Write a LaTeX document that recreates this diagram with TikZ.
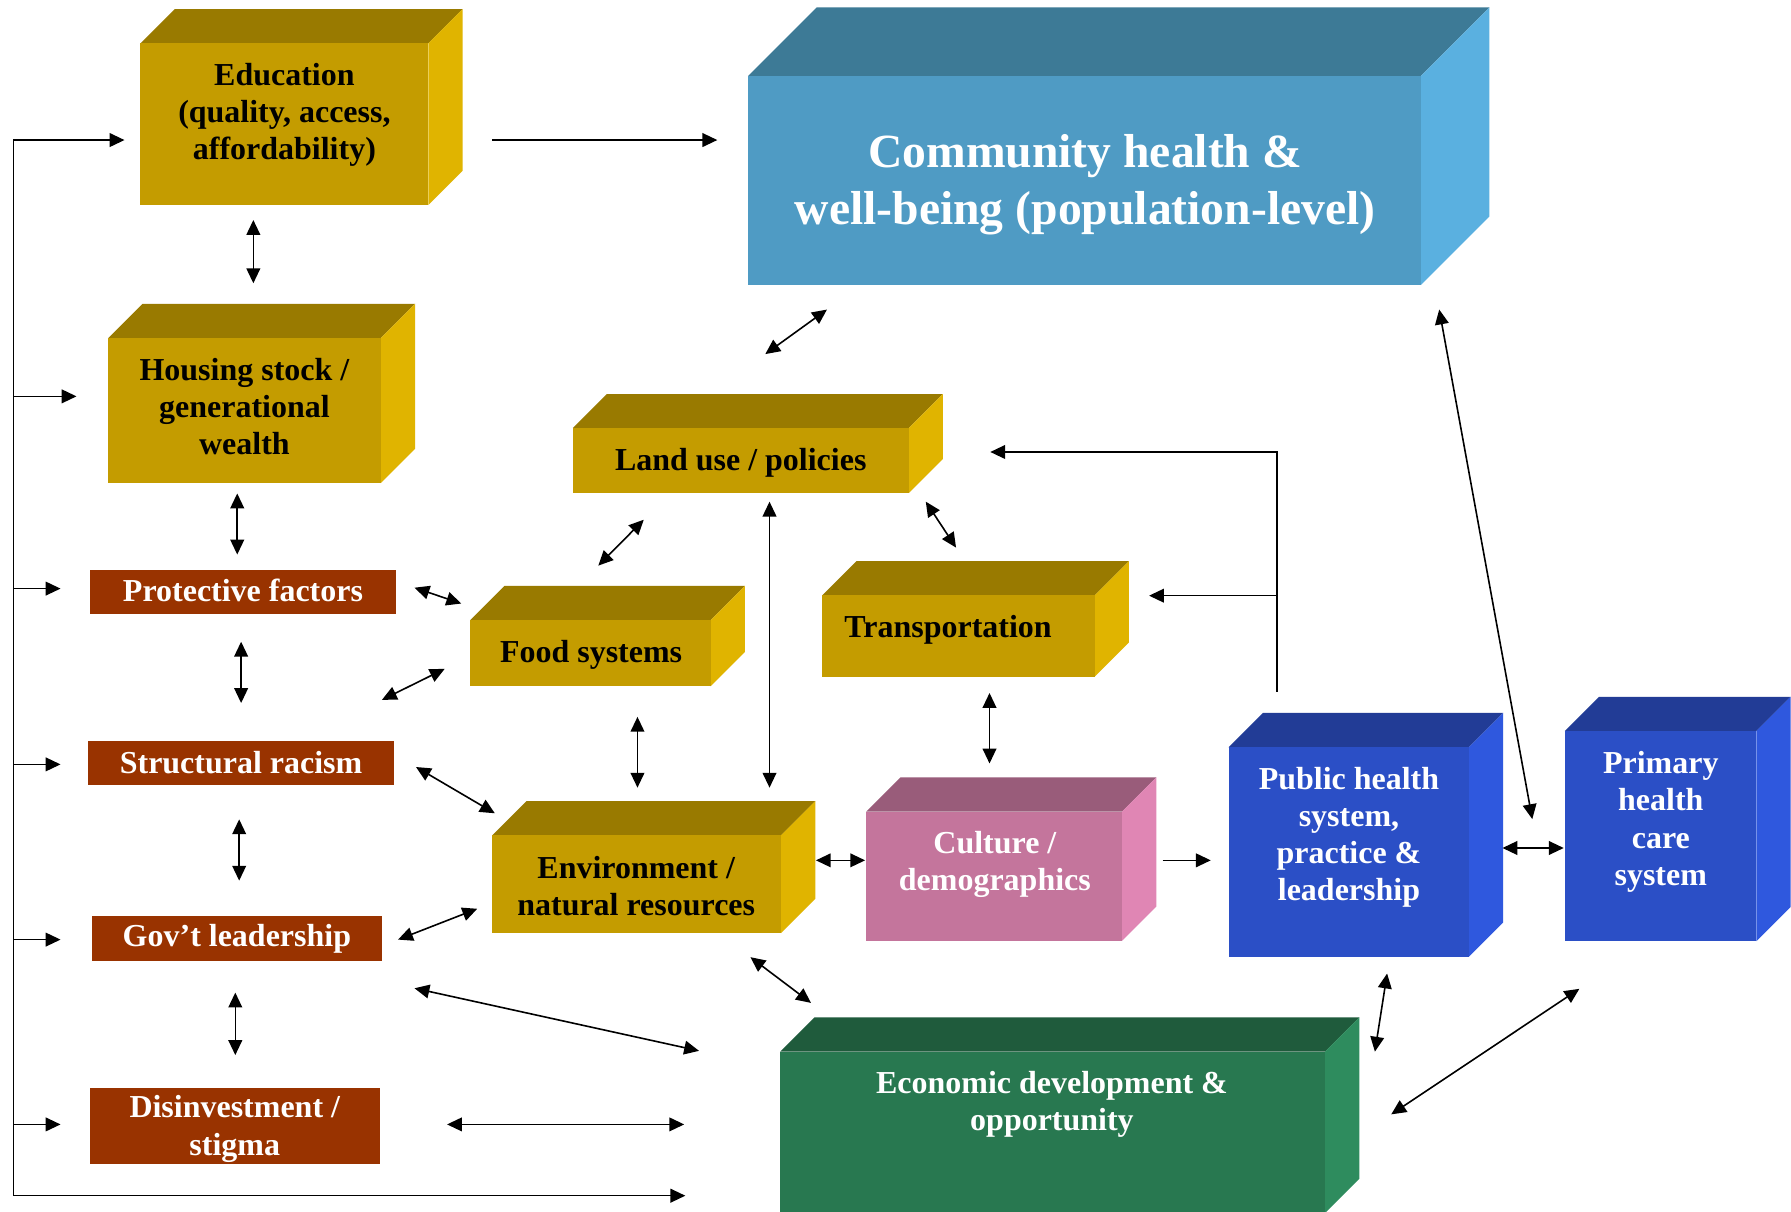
\documentclass[tikz,border=0pt]{standalone}
\usepackage{fontspec}
\setmainfont{Liberation Serif}
\usetikzlibrary{arrows.meta}
\definecolor{gfront}{HTML}{C49C00}
\definecolor{gtop}{HTML}{997A00}
\definecolor{gright}{HTML}{E0B400}
\definecolor{cfront}{HTML}{4F9BC4}
\definecolor{ctop}{HTML}{3D7A96}
\definecolor{cright}{HTML}{5AB0E0}
\definecolor{rust}{HTML}{993300}
\definecolor{pfront}{HTML}{C4759C}
\definecolor{ptop}{HTML}{995C7A}
\definecolor{pright}{HTML}{E086B4}
\definecolor{bfront}{HTML}{2B4FC6}
\definecolor{btop}{HTML}{223C96}
\definecolor{bright}{HTML}{2F58DE}
\definecolor{efront}{HTML}{287850}
\definecolor{etop}{HTML}{1F5B3C}
\definecolor{eright}{HTML}{2E8C5E}
\newcommand\tdbox[9]{%
  \fill[#8] (#2,#3) -- (#2+#6,#3-#6) -- (#4+#6,#3-#6) -- (#4,#3) -- cycle;
  \fill[#9] (#4,#3) -- (#4+#6,#3-#6) -- (#4+#6,#5-#6) -- (#4,#5) -- cycle;
  \node[fill=#7, draw=none, inner sep=0pt, outer sep=0pt, anchor=north west,
        minimum width=#4pt-#2pt, minimum height=#5pt-#3pt] (#1) at (#2,#3) {};
}
\tikzset{
  lbl/.style={align=center, inner sep=0pt, font=\bfseries\fontsize{28}{32.5}\selectfont},
  wlbl/.style={lbl, text=white},
  redbox/.style={fill=rust, text=white, inner sep=0pt, outer sep=0pt, anchor=north west,
        align=center, font=\bfseries\fontsize{28}{33}\selectfont},
  arr/.style={line width=1.4pt, -{Triangle[length=13pt,width=12pt]}},
  darr/.style={line width=1.4pt, {Triangle[length=13pt,width=12pt]}-{Triangle[length=13pt,width=12pt]}},
}
\begin{document}
\begin{tikzpicture}[x=1pt,y=-1pt]
\useasboundingbox (0,0) rectangle (1568,1061);
\fill[white] (0,0) rectangle (1568,1061);
\clip (0,0) rectangle (1568,1061);

% 3D boxes
\tdbox{edu}{123}{37.9}{375}{179.5}{30}{gfront}{gtop}{gright}
\tdbox{hs}{94.8}{296}{333.4}{423}{30}{gfront}{gtop}{gright}
\tdbox{com}{655}{66.5}{1244}{249.5}{60}{cfront}{ctop}{cright}
\tdbox{lu}{501.6}{374.6}{795.9}{431.5}{29.5}{gfront}{gtop}{gright}
\tdbox{food}{411.6}{543}{622.2}{600.8}{30}{gfront}{gtop}{gright}
\tdbox{tr}{719.7}{521.3}{958.4}{592.4}{30}{gfront}{gtop}{gright}
\tdbox{env}{430.8}{731.4}{683.8}{816.9}{30}{gfront}{gtop}{gright}
\tdbox{cul}{758.3}{710.6}{982.3}{823.6}{30}{pfront}{ptop}{pright}
\tdbox{ph}{1075.6}{654.2}{1286}{837.5}{30}{bfront}{btop}{bright}
\tdbox{pc}{1370}{640}{1537.6}{824}{30}{bfront}{btop}{bright}
\tdbox{ec}{683}{920.7}{1160}{1062}{30}{efront}{etop}{eright}

% labels of 3D boxes
\node[lbl] (edu-t) at (249,100.5) {Education\\(quality, access,\\affordability)};
\node[lbl] (hs-t) at (214,355.8) {Housing stock /\\generational\\wealth};
\node[wlbl, font=\bfseries\fontsize{41.7}{50}\selectfont] (com-t) at (950,162) {Community health \&\\well-being (population-level)};
\node[lbl] (lu-t) at (648.5,405) {Land use / policies};
\node[lbl] (food-t) at (517.5,573) {Food systems};
\node[lbl] (tr-t) at (830,551) {Transportation};
\node[lbl] (env-t) at (557,775.5) {Environment /\\natural resources};
\node[wlbl] (cul-t) at (871,757) {Culture /\\demographics};
\node[wlbl] (ph-t) at (1181,733) {Public health\\system,\\practice \&\\leadership};
\node[wlbl] (pc-t) at (1454,719.5) {Primary\\health\\care\\system};
\node[wlbl] (ec-t) at (921,967) {Economic development \&\\opportunity};

% red boxes
\node[redbox, minimum width=268.1pt, minimum height=38.5pt, text depth=0pt] (prot) at (78.7,499.4) {};
\node[redbox, minimum width=268.1pt, minimum height=38.9pt] (strc) at (77,648.5) {};
\node[redbox, minimum width=254pt, minimum height=39pt] (gov) at (80.4,802) {};
\node[redbox, minimum width=253.7pt, minimum height=66.8pt] (dis) at (78.7,952.6) {};
\node[wlbl] (prot-t) at ([yshift=1.5pt]prot.center) {Protective factors};
\node[wlbl] (strc-t) at ([yshift=0.5pt]strc.center) {Structural racism};
\node[wlbl] (gov-t) at (gov.center) {Gov’t leadership};
\node[wlbl, font=\bfseries\fontsize{28}{33}\selectfont] (dis-t) at ([yshift=-2.5pt]dis.center) {Disinvestment /\\stigma};

% connector end points
\coordinate (spA) at (11.7,122.6);
\coordinate (eduIn) at (109,122.6);
\coordinate (hsIn) at (67,347);
\coordinate (protIn) at (53,515.3);
\coordinate (strcIn) at (53,669.2);
\coordinate (govIn) at (53,822.6);
\coordinate (disIn) at (53,984.4);
\coordinate (botEnd) at (600,1046.8);

\coordinate (a1) at (221.8,192.6); \coordinate (b1) at (221.8,248);
\coordinate (a2) at (207.7,432);   \coordinate (b2) at (207.7,485.5);
\coordinate (a3) at (211.1,561.8); \coordinate (b3) at (211.1,615.5);
\coordinate (a4) at (209.4,717.3); \coordinate (b4) at (209.4,771);
\coordinate (a5) at (206,869);     \coordinate (b5) at (206,923.7);
\coordinate (a6) at (362.9,514.5); \coordinate (b6) at (403.8,528.4);
\coordinate (a7) at (334.4,612.7); \coordinate (b7) at (389.3,585.6);
\coordinate (a8) at (364.2,671.5); \coordinate (b8) at (433.2,712);
\coordinate (a9) at (348.5,822.6); \coordinate (b9) at (417.8,795.6);
\coordinate (a10) at (362.9,865.2); \coordinate (b10) at (612,920);
\coordinate (a11) at (391.4,984.4); \coordinate (b11) at (599,984.4);
\coordinate (a12) at (431,122.6);  \coordinate (b12) at (628,122.6);
\coordinate (a13) at (670,310);    \coordinate (b13) at (724,271);
\coordinate (a14) at (523.8,495.2); \coordinate (b14) at (563.6,455);
\coordinate (a15) at (673.7,439.2); \coordinate (b15) at (673.7,689.6);
\coordinate (a16) at (810.5,439.2); \coordinate (b16) at (837,479.4);
\coordinate (a17) at (558.1,627.6); \coordinate (b17) at (558.1,689.6);
\coordinate (a18) at (866.3,606.7); \coordinate (b18) at (866.3,668.4);
\coordinate (a19) at (714.3,753.2); \coordinate (b19) at (757.4,753.2);
\coordinate (a20) at (1017.9,753.2); \coordinate (b20) at (1060,753.2);
\coordinate (a21) at (657,838);    \coordinate (b21) at (710,878);
\coordinate (phTop) at (1117.8,605.8);
\coordinate (luIn) at (867,395.7);
\coordinate (trIn) at (1006,521.5);
\coordinate (a22) at (1260,271);   \coordinate (b22) at (1341.5,717.1);
\coordinate (a23) at (1315.4,742.4); \coordinate (b23) at (1369,742.4);
\coordinate (a24) at (1214.4,852.3); \coordinate (b24) at (1203.7,920.7);
\coordinate (a25) at (1218,975.6); \coordinate (b25) at (1382.7,865.7);

% left spine
\draw[arr] (spA) -- (eduIn);
\draw[arr] (spA) |- (botEnd);
\draw[arr] (spA |- hsIn) -- (hsIn);
\draw[arr] (spA |- protIn) -- (protIn);
\draw[arr] (spA |- strcIn) -- (strcIn);
\draw[arr] (spA |- govIn) -- (govIn);
\draw[arr] (spA |- disIn) -- (disIn);

% two-way arrows
\foreach \i in {1,...,11,13,14,15,16,17,18,19,21,22,23,24,25}{
  \draw[darr] (a\i) -- (b\i);
}
% one-way arrows
\draw[arr] (a12) -- (b12);
\draw[arr] (a20) -- (b20);
\draw[arr] (phTop) |- (luIn);
\draw[arr] (phTop |- trIn) -- (trIn);
\end{tikzpicture}
\end{document}
